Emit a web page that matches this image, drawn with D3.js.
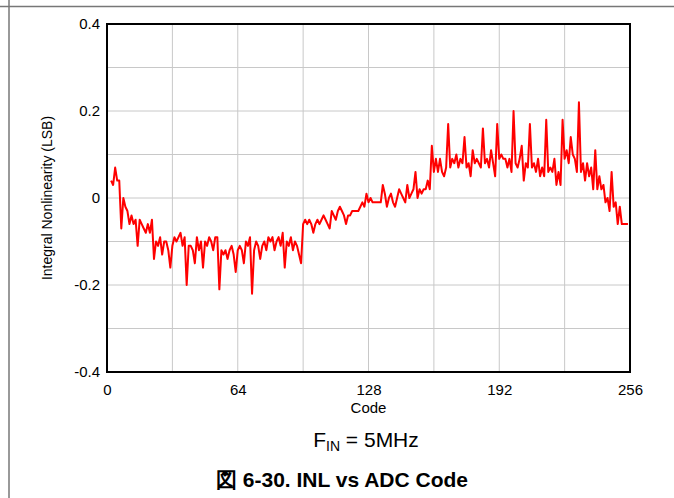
<!DOCTYPE html>
<head>
  <meta charset="utf-8">
  <title>INL vs ADC Code</title>
  <script src="https://d3js.org/d3.v7.min.js"></script>
  <style>
    body { margin: 0; background: #fff; }
    svg text { font-family: "Liberation Sans", Arial, sans-serif; fill: #000; }
  </style>
</head>
<body>
<div id="root"></div>
<script>
// first code plotted (the trace starts at code 2)
var firstCode = 2;

// INL in LSB, codes 2..255
var inlValues = [
  0.04, 0.03, 0.07, 0.04, 0.04, -0.07, 0.00, -0.02,            // 2-9
  -0.03, -0.06, -0.04, -0.06, -0.05, -0.11, -0.05, -0.06, -0.07, -0.08, // 10-19
  -0.06, -0.08, -0.05, -0.14, -0.10, -0.11, -0.09, -0.13, -0.10, -0.10, // 20-29
  -0.12, -0.16, -0.11, -0.09, -0.10, -0.09, -0.08, -0.11, -0.09, -0.20, // 30-39
  -0.11, -0.11, -0.12, -0.15, -0.09, -0.12, -0.10, -0.16, -0.10, -0.11, // 40-49
  -0.09, -0.10, -0.12, -0.09, -0.09, -0.21, -0.12, -0.13, -0.12, -0.14, // 50-59
  -0.12, -0.11, -0.13, -0.17, -0.12, -0.11, -0.12, -0.15, -0.10, -0.11, // 60-69
  -0.09, -0.22, -0.12, -0.10, -0.11, -0.14, -0.11, -0.10, -0.12, -0.09, // 70-79
  -0.10, -0.09, -0.12, -0.10, -0.09, -0.11, -0.08, -0.16, -0.10, -0.11, // 80-89
  -0.09, -0.12, -0.10, -0.11, -0.13, -0.15, -0.06, -0.05, -0.06, -0.05, // 90-99
  -0.06, -0.08, -0.06, -0.05, -0.06, -0.05, -0.04, -0.05, -0.06, -0.07, // 100-109
  -0.03, -0.04, -0.05, -0.03, -0.02, -0.03, -0.04, -0.06, -0.04, -0.04, // 110-119
  -0.03, -0.03, -0.03, -0.03, -0.02, -0.01, -0.02, 0.01, -0.01, 0.00,   // 120-129
  -0.01, -0.01, -0.01, -0.01, -0.01, 0.03, 0.01, -0.02, 0.00, 0.01,     // 130-139
  -0.01, -0.02, 0.00, 0.02, 0.01, 0.00, -0.01, 0.03, 0.00, 0.01,        // 140-149
  0.02, 0.06, 0.00, 0.02, 0.01, 0.02, 0.02, 0.04, 0.02, 0.12,           // 150-159
  0.06, 0.09, 0.06, 0.09, 0.06, 0.05, 0.07, 0.17, 0.07, 0.09,           // 160-169
  0.08, 0.10, 0.07, 0.09, 0.08, 0.14, 0.07, 0.08, 0.05, 0.11,           // 170-179
  0.08, 0.09, 0.08, 0.07, 0.16, 0.08, 0.09, 0.07, 0.11, 0.08,           // 180-189
  0.05, 0.17, 0.09, 0.10, 0.09, 0.09, 0.07, 0.09, 0.06, 0.20,           // 190-199
  0.08, 0.07, 0.09, 0.12, 0.04, 0.08, 0.07, 0.17, 0.07, 0.08,           // 200-209
  0.06, 0.09, 0.05, 0.07, 0.05, 0.18, 0.06, 0.07, 0.06, 0.09,           // 210-219
  0.03, 0.06, 0.03, 0.18, 0.09, 0.11, 0.08, 0.14, 0.10, 0.09,           // 220-229
  0.06, 0.22, 0.06, 0.08, 0.04, 0.08, 0.05, 0.07, 0.02, 0.11,           // 230-239
  0.02, 0.05, 0.02, 0.03, -0.01, 0.00, -0.03, 0.06, -0.02, -0.01,       // 240-249
  -0.06, -0.02, -0.06, -0.06, -0.06, -0.06                              // 250-255
];

var xTicks = [0, 64, 128, 192, 256];
var yTicks = [-0.4, -0.2, 0, 0.2, 0.4];
var yTickLabels = ["-0.4", "-0.2", "0", "0.2", "0.4"];
var xGrid = [32, 64, 96, 128, 160, 192, 224];
var yGrid = [-0.3, -0.2, -0.1, 0, 0.1, 0.2, 0.3];

var W = 674, H = 498;
var margin = {top: 24, right: 44, bottom: 126, left: 107},
    width = W - margin.left - margin.right,
    height = H - margin.top - margin.bottom;

var svg = d3.select("#root").append("svg")
  .attr("width", W)
  .attr("height", H);

// page frame lines
svg.append("line")
  .attr("x1", 0).attr("x2", W).attr("y1", 6.5).attr("y2", 6.5)
  .attr("stroke", "#777").attr("stroke-width", 1.5);
svg.append("line")
  .attr("x1", 9).attr("x2", 9).attr("y1", 0).attr("y2", H)
  .attr("stroke", "#777").attr("stroke-width", 1.5);

var g = svg.append("g")
  .attr("transform", "translate(" + margin.left + "," + margin.top + ")");

var x = d3.scaleLinear().domain([0, 256]).range([0, width]);
var y = d3.scaleLinear().domain([-0.4, 0.4]).range([height, 0]);

// grid
g.selectAll(".vgrid").data(xGrid).enter().append("line")
  .attr("x1", function(d) { return x(d); })
  .attr("x2", function(d) { return x(d); })
  .attr("y1", 0).attr("y2", height)
  .attr("stroke", "#c8c8c8").attr("stroke-width", 1);
g.selectAll(".hgrid").data(yGrid).enter().append("line")
  .attr("x1", 0).attr("x2", width)
  .attr("y1", function(d) { return y(d); })
  .attr("y2", function(d) { return y(d); })
  .attr("stroke", "#c8c8c8").attr("stroke-width", 1);

// axes (labels only, the box is drawn below)
var xAxis = g.append("g")
  .attr("transform", "translate(0," + height + ")")
  .call(d3.axisBottom(x).tickValues(xTicks).tickSize(0).tickPadding(12).tickFormat(d3.format("d")));
var yAxis = g.append("g")
  .call(d3.axisLeft(y).tickValues(yTicks).tickSize(0).tickPadding(7)
    .tickFormat(function(d, i) { return yTickLabels[i]; }));
[xAxis, yAxis].forEach(function(a) {
  a.select(".domain").remove();
  a.selectAll("text")
    .style("font-family", "'Liberation Sans', Arial, sans-serif")
    .style("font-size", "15px")
    .attr("fill", "#000");
});

// INL trace
var line = d3.line()
  .x(function(d, i) { return x(firstCode + i); })
  .y(function(d) { return y(d); });
g.append("path")
  .datum(inlValues)
  .attr("d", line)
  .attr("fill", "none")
  .attr("stroke", "#ff0000")
  .attr("stroke-width", 2)
  .attr("stroke-linejoin", "round");

// plot box
g.append("rect")
  .attr("x", 0).attr("y", 0)
  .attr("width", width).attr("height", height)
  .attr("fill", "none").attr("stroke", "#000").attr("stroke-width", 2);

// axis titles
g.append("text")
  .attr("x", width / 2).attr("y", height + 41)
  .attr("text-anchor", "middle")
  .style("font-size", "15px")
  .text("Code");
svg.append("text")
  .attr("transform", "translate(52," + (margin.top + height / 2) + ") rotate(-90)")
  .attr("text-anchor", "middle")
  .style("font-size", "14px")
  .text("Integral Nonlinearity (LSB)");

// condition label
var cond = svg.append("text")
  .attr("x", 366).attr("y", 447)
  .attr("text-anchor", "middle")
  .style("font-size", "21px");
cond.append("tspan").text("F");
cond.append("tspan").attr("dy", 4).style("font-size", "14px").text("IN");
cond.append("tspan").attr("dy", -4).text(" = 5MHz");

// figure caption
svg.append("text")
  .attr("x", 342).attr("y", 487)
  .attr("text-anchor", "middle")
  .style("font-size", "21px")
  .style("font-weight", "bold")
  .text("図 6-30. INL vs ADC Code");
</script>
</body>
